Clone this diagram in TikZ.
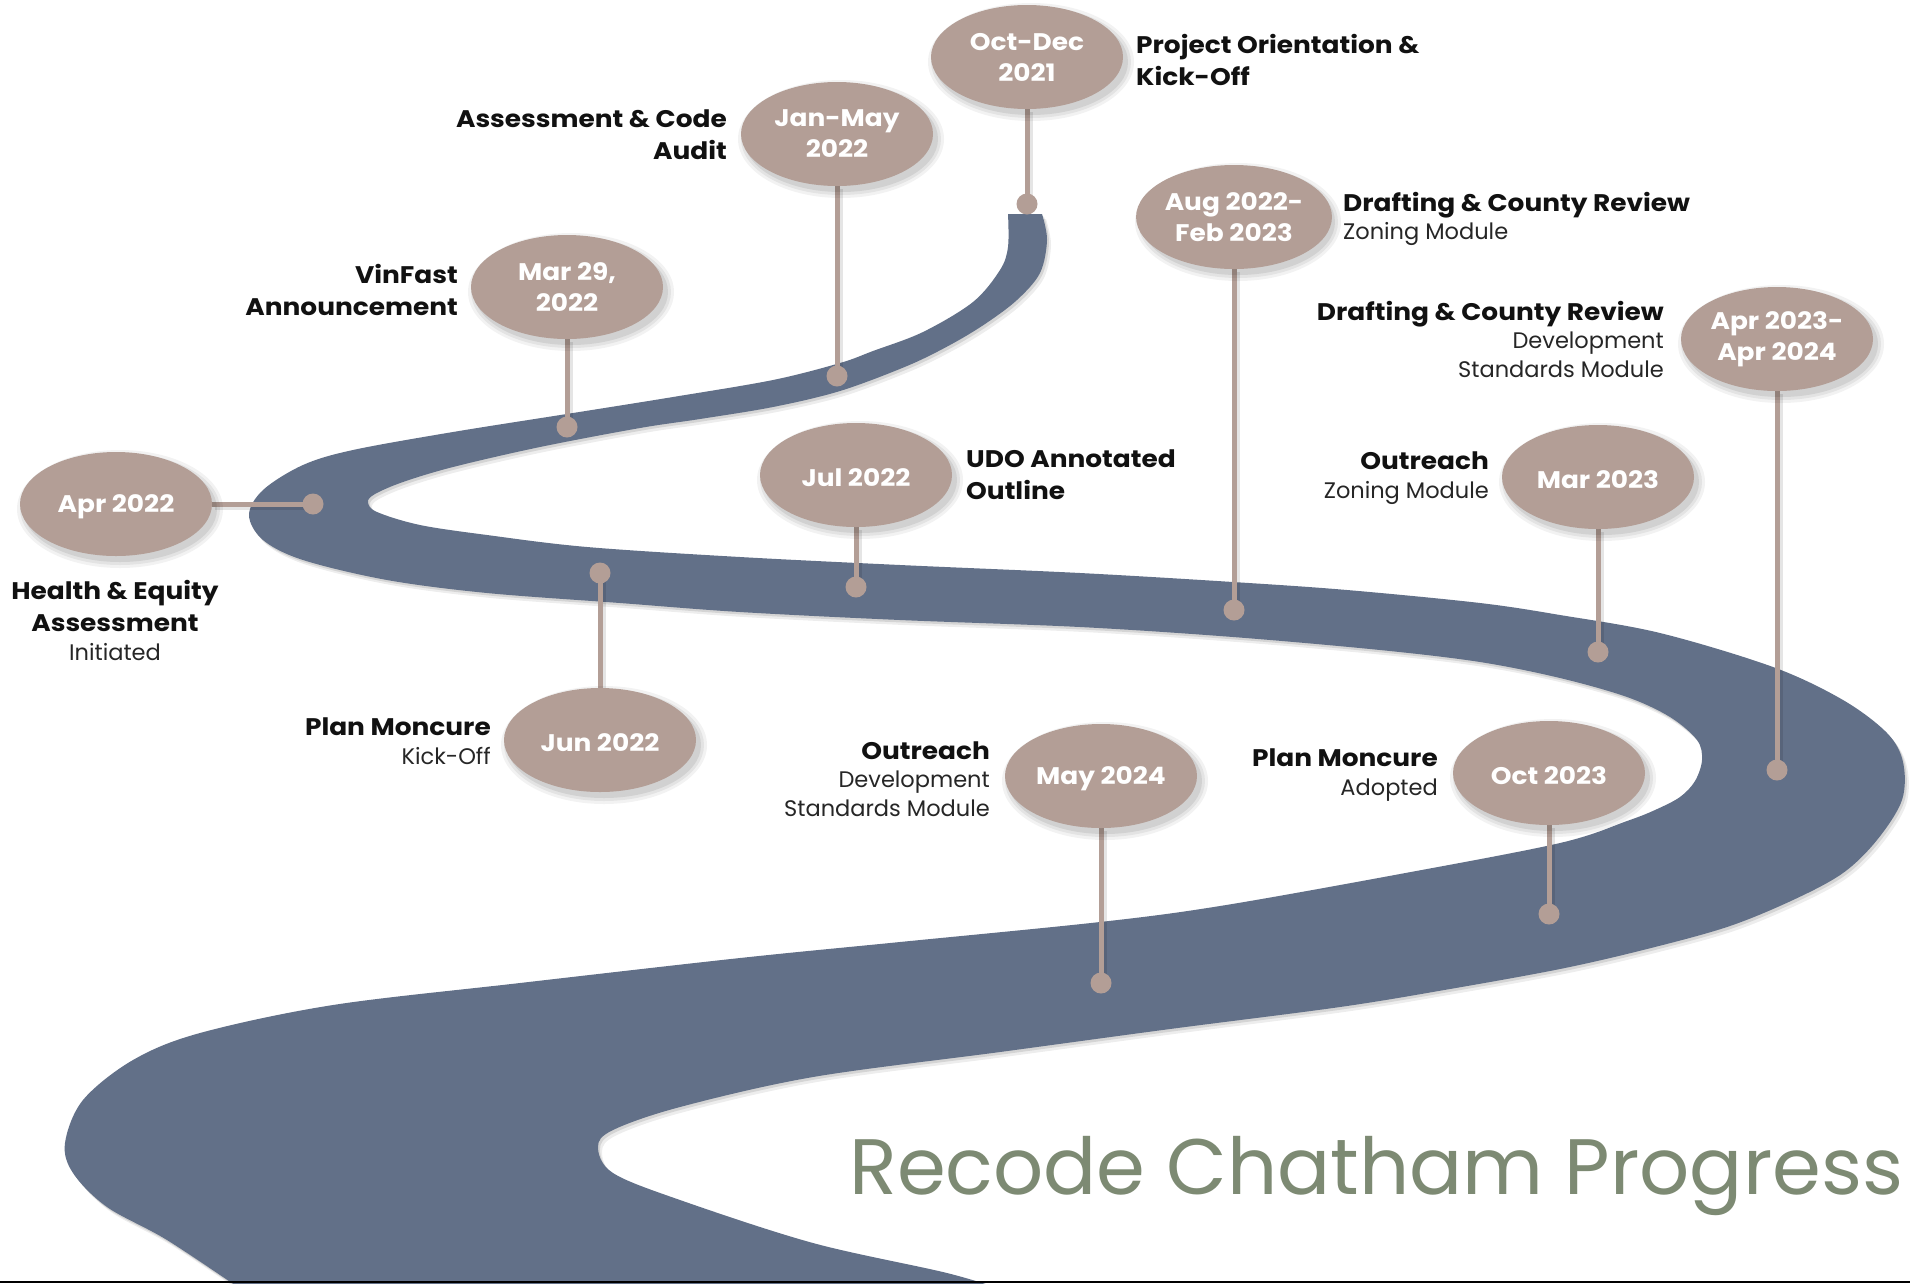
\documentclass[tikz,border=0pt]{standalone}
\usepackage{fontspec}
\setmainfont{Poppins}[BoldFeatures={FakeStretch=1.1}]
\usetikzlibrary{shapes.geometric}

\definecolor{road}{HTML}{627088}
\definecolor{pin}{HTML}{B39E96}
\definecolor{titlegreen}{HTML}{7D8A73}
\definecolor{ink}{HTML}{111111}
\definecolor{subink}{HTML}{262626}

\pgfdeclarelayer{roadlayer}
\pgfdeclarelayer{stemlayer}
\pgfsetlayers{roadlayer,stemlayer,main}

\tikzset{
  pill/.style={ellipse, fill=pin, minimum width=192pt, minimum height=104pt,
    inner sep=0pt, text=white, align=center,
    font=\fontsize{24}{31}\selectfont\bfseries,
    execute at begin node={\rule{0pt}{24pt}}},
  twoline/.style={execute at begin node={\rule{0pt}{30pt}}},
  pindot/.style={circle, fill=pin, minimum size=21pt, inner sep=0pt},
  stem/.style={draw=pin, line width=5pt},
  stemshadow/.style={draw=black, draw opacity=0.10, line width=6pt},
  head/.style={inner sep=0pt, text=ink,
    font=\fontsize{24}{32}\selectfont\bfseries},
  mixed/.style={inner sep=0pt, text=subink,
    font=\fontsize{22.5}{28.5}\selectfont}
}

% the outline of the winding road
\newcommand\roadpath{
  plot[smooth, tension=0.55] coordinates {
    (1042,214) (1047,240) (1040,273) (1017,300) (985,324) (950,345)
    (907,366) (840,391) (773,407) (700,419) (640,428) (540,447)
    (453,467) (403,482)
    (375,494) (368,502) (377,512) (420,525) (487,535) (587,547)
    (740,557) (900,565) (1080,573) (1233,582) (1347,590) (1480,603)
    (1560,615) (1660,633) (1773,667) (1843,700) (1887,733) (1903,762)
    (1902,800) (1877,840) (1843,873) (1793,900) (1727,927) (1643,950)
    (1560,969) (1450,989) (1340,1007) (1170,1029) (1000,1052) (813,1077)
    (680,1107) (613,1130) (598,1147) (613,1173) (680,1200) (813,1243)
    (947,1273) (1010,1292)}
  -- plot[smooth, tension=0.55] coordinates {
    (245,1292) (167,1240) (107,1207) (73,1173) (65,1143) (83,1100)
    (133,1060) (200,1033) (333,1005) (520,983) (740,958) (900,942)
    (1100,922) (1220,906) (1400,874) (1560,843) (1627,821) (1655,810)
    (1680,797) (1695,781) (1702,760) (1697,740) (1670,717) (1627,697)
    (1560,678) (1480,662) (1380,650) (1233,637) (1080,627) (900,620)
    (740,612) (620,603) (487,593) (387,580) (303,560) (263,540) (249,515)
    (263,490) (303,465) (353,450) (453,432) (573,413) (673,397)
    (773,380) (840,363) (873,351) (923,332) (973,302) (1000,270)
    (1008,247) (1008,214)}
  -- cycle}

% soft shadow beneath a pill
\newcommand\pillshadow[1]{%
  \foreach \k/\o in {7/0.05, 4/0.06, 1/0.08}
    \fill[black, opacity=\o] ([shift={(4,5)}]#1.center)
      ellipse [x radius={96+\k}, y radius={52+\k}];
}
\newcommand\hd[1]{{\bfseries\color{ink}\fontsize{24}{28.5}\selectfont #1}}

\begin{document}
\begin{tikzpicture}[x=1pt, y=-1pt]
\useasboundingbox (0,0) rectangle (1910,1283);

\begin{pgfonlayer}{roadlayer}
\fill[white] (0,0) rectangle (1910,1283);
% road shadow, then the road itself
\begin{scope}[shift={(4,5)}]
  \fill[black, opacity=0.07] \roadpath;
\end{scope}
\begin{scope}[shift={(2,2.5)}]
  \fill[black, opacity=0.10] \roadpath;
\end{scope}
\fill[road] \roadpath;
\end{pgfonlayer}

% milestone pills
\node[pill, twoline] (oct)   at (1027,57)  {Oct-Dec\\2021};
\node[pill, twoline] (jan)   at (837,134)  {Jan-May\\2022};
\node[pill, twoline] (mar29) at (567,287)  {Mar 29,\\2022};
\node[pill] (apr)   at (116,504)  {Apr 2022};
\node[pill] (jun)   at (600,740)  {Jun 2022};
\node[pill] (jul)   at (856,475)  {Jul 2022};
\node[pill, twoline] (aug)   at (1234,217) {Aug 2022-\\Feb 2023};
\node[pill] (mar23) at (1598,477) {Mar 2023};
\node[pill, twoline] (apr23) at (1777,339) {Apr 2023-\\Apr 2024};
\node[pill] (oct23) at (1549,773) {Oct 2023};
\node[pill] (may)   at (1101,776) {May 2024};

% dots on the road
\node[pindot] (doct)   at (1027,204) {};
\node[pindot] (djan)   at (837,376)  {};
\node[pindot] (dmar29) at (567,427)  {};
\node[pindot] (dapr)   at (313,504)  {};
\node[pindot] (djun)   at (600,573)  {};
\node[pindot] (djul)   at (856,587)  {};
\node[pindot] (daug)   at (1234,610) {};
\node[pindot] (dmar23) at (1598,652) {};
\node[pindot] (dapr23) at (1777,770) {};
\node[pindot] (doct23) at (1549,914) {};
\node[pindot] (dmay)   at (1101,983) {};

% stems from each pill to its dot, and pill shadows, below pills and dots
\begin{pgfonlayer}{stemlayer}
\foreach \p/\a in {oct/south, jan/south, mar29/south, apr/east, jun/north,
                   jul/south, aug/south, mar23/south, apr23/south,
                   oct23/south, may/south} {
  \draw[stemshadow] ([shift={(3,3)}]\p.\a) -- ([shift={(3,3)}]d\p.center);
  \draw[stem] (\p.\a) -- (d\p.center);
  \pillshadow{\p}
}
\end{pgfonlayer}

% milestone captions
\node[head, anchor=west, align=left] (lorient) at (1136,60)
  {Project Orientation \&\\Kick-Off};
\node[head, anchor=east, align=right] (laudit) at (727,135)
  {Assessment \& Code\\Audit};
\node[head, anchor=east, align=right] (lvin) at (458,290)
  {VinFast\\Announcement};
\node[head, anchor=center, align=center] (lhealth) at (115,620)
  {Health \& Equity\\Assessment\\[-3pt]{\mdseries\color{subink}\fontsize{22.5}{28.5}\selectfont Initiated}};
\node[mixed, anchor=east, align=right] (lmonk) at (491,741)
  {\hd{Plan Moncure}\\Kick-Off};
\node[head, anchor=west, align=left] (ludo) at (966,475)
  {UDO Annotated\\Outline};
\node[mixed, anchor=west, align=left] (ldraftz) at (1343,219)
  {\hd{Drafting \& County Review}\\Zoning Module};
\node[mixed, anchor=east, align=right] (ldraftd) at (1664,339)
  {\hd{Drafting \& County Review}\\Development\\Standards Module};
\node[mixed, anchor=east, align=right] (loutz) at (1489,478)
  {\hd{Outreach}\\Zoning Module};
\node[mixed, anchor=east, align=right] (lmona) at (1438,775)
  {\hd{Plan Moncure}\\Adopted};
\node[mixed, anchor=east, align=right] (loutd) at (990,779)
  {\hd{Outreach}\\Development\\Standards Module};

% title
\node[anchor=base west, inner sep=0pt, text=titlegreen] (title) at (849,1194)
  {\resizebox{1054pt}{!}{\fontsize{80}{80}\selectfont Recode Chatham Progress}};

% bottom rule
\draw[black, line width=2.5pt] (0,1282) -- (1910,1282);
\end{tikzpicture}
\end{document}
